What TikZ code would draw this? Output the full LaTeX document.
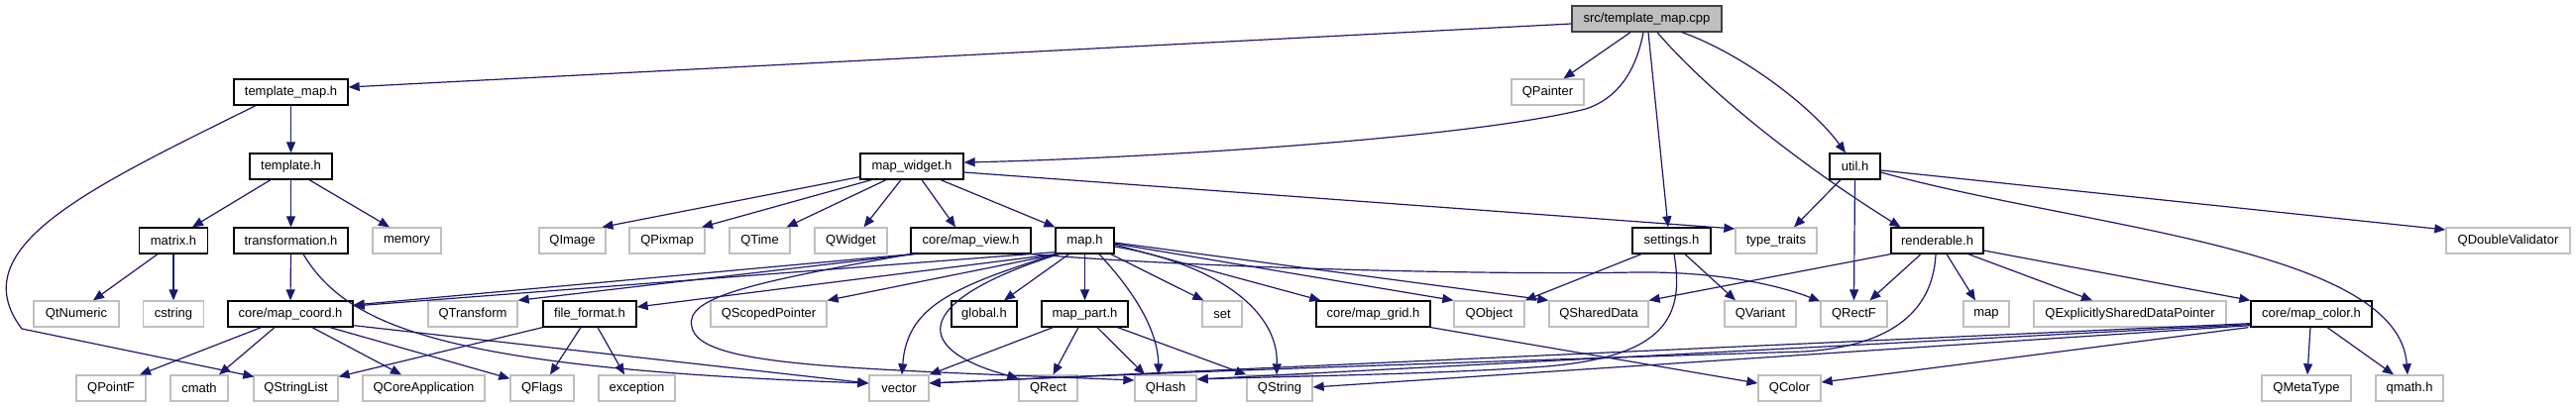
\documentclass[tikz,border=0pt]{standalone}
\usepackage{fontspec}
\setmainfont{Liberation Sans}
\usetikzlibrary{arrows.meta,calc}
\definecolor{edgeblue}{HTML}{191970}
\definecolor{grayborder}{HTML}{BFBFBF}
\definecolor{srcfill}{HTML}{BFBFBF}
\definecolor{srcborder}{HTML}{404040}
\begin{document}
\begin{tikzpicture}[x=1pt,y=-1pt,
  box/.style={rectangle,minimum height=26pt,inner sep=0pt,font=\fontsize{13pt}{15pt}\selectfont,fill=white,line width=1.3pt},
  blk/.style={box,draw=black},
  gry/.style={box,draw=grayborder},
  srcn/.style={box,draw=srcborder,fill=srcfill},
  edge/.style={draw=edgeblue,line width=1.2pt,-{Triangle[length=11pt,width=9pt]},fill=none}]
\fill[white] (0,0) rectangle (2599,411);
\useasboundingbox (0,0) rectangle (2599,411);
% row 0
\node[srcn,minimum width=151pt] (src) at (1661.5,19) {src/template\_map.cpp};
% row 1
\node[blk,minimum width=115pt] (tmh) at (293.5,93) {template\_map.h};
\node[gry,minimum width=73pt] (QPainter) at (1561.5,93) {QPainter};
% row 2
\node[blk,minimum width=83pt] (th) at (293.5,168) {template.h};
\node[blk,minimum width=104pt] (mwh) at (920,168) {map\_widget.h};
\node[blk,minimum width=51pt] (util) at (1871.5,168) {util.h};
% row 3
\node[blk,minimum width=69pt] (matrix) at (175,243) {matrix.h};
\node[blk,minimum width=115pt] (trans) at (293.5,243) {transformation.h};
\node[gry,minimum width=69pt] (memory) at (410.5,243) {memory};
\node[gry,minimum width=67pt] (QImage) at (577.5,243) {QImage};
\node[gry,minimum width=76pt] (QPixmap) at (673,243) {QPixmap};
\node[gry,minimum width=61pt] (QTime) at (766.5,243) {QTime};
\node[gry,minimum width=73pt] (QWidget) at (858.5,243) {QWidget};
\node[blk,minimum width=121pt] (mapview) at (979.5,243) {core/map\_view.h};
\node[blk,minimum width=59pt] (maph) at (1094.5,243) {map.h};
\node[blk,minimum width=79pt] (settings) at (1686.5,243) {settings.h};
\node[gry,minimum width=82pt] (typetraits) at (1792,243) {type\_traits};
\node[blk,minimum width=93pt] (renderable) at (1954.5,243) {renderable.h};
\node[gry,minimum width=125pt] (QDV) at (2530.5,243) {QDoubleValidator};
% row 4
\node[gry,minimum width=86pt] (QtNumeric) at (77,317) {QtNumeric};
\node[gry,minimum width=61pt] (cstring) at (175,317) {cstring};
\node[blk,minimum width=126pt] (mapcoord) at (293,317) {core/map\_coord.h};
\node[gry,minimum width=90pt] (QTransform) at (477,317) {QTransform};
\node[blk,minimum width=94pt] (fileformat) at (595,317) {file\_format.h};
\node[gry,minimum width=117pt] (QScopedPointer) at (775.5,317) {QScopedPointer};
\node[blk,minimum width=66pt] (global) at (993,317) {global.h};
\node[blk,minimum width=87pt] (mappart) at (1094.5,317) {map\_part.h};
\node[gry,minimum width=40pt] (set) at (1233,317) {set};
\node[blk,minimum width=115pt] (mapgrid) at (1385.5,317) {core/map\_grid.h};
\node[gry,minimum width=71pt] (QObject) at (1502.5,317) {QObject};
\node[gry,minimum width=100pt] (QSharedData) at (1613,317) {QSharedData};
\node[gry,minimum width=72pt] (QVariant) at (1776,317) {QVariant};
\node[gry,minimum width=67pt] (QRectF) at (1870.5,317) {QRectF};
\node[gry,minimum width=46pt] (map) at (2004,317) {map};
\node[gry,minimum width=194pt] (QESDP) at (2149,317) {QExplicitlySharedDataPointer};
\node[blk,minimum width=122pt] (mapcolor) at (2332,317) {core/map\_color.h};
% row 5
\node[gry,minimum width=70pt] (QPointF) at (112,392) {QPointF};
\node[gry,minimum width=58pt] (cmath) at (201,392) {cmath};
\node[gry,minimum width=85pt] (QStringList) at (298.5,392) {QStringList};
\node[gry,minimum width=123pt] (QCoreApp) at (427.5,392) {QCoreApplication};
\node[gry,minimum width=64pt] (QFlags) at (547,392) {QFlags};
\node[gry,minimum width=77pt] (exception) at (642.5,392) {exception};
\node[gry,minimum width=60pt] (vector) at (907,392) {vector};
\node[gry,minimum width=59pt] (QRect) at (1057.5,392) {QRect};
\node[gry,minimum width=62pt] (QHash) at (1176,392) {QHash};
\node[gry,minimum width=66pt] (QString) at (1291,392) {QString};
\node[gry,minimum width=63pt] (QColor) at (1805.5,392) {QColor};
\node[gry,minimum width=90pt] (QMetaType) at (2327,392) {QMetaType};
\node[gry,minimum width=68pt] (qmath) at (2431,392) {qmath.h};
% edges from src
\draw[edge] ($(src.west)+(0,5)$) -- ($(tmh.east)+(0,-5)$);
\draw[edge] ($(src.south)+(-16.5,0)$) -- ($(QPainter.north)+(16,0)$);
\draw[edge] ($(src.south)+(-3.5,0)$) .. controls (1650,75) and (1630,100) .. (1600,110) .. controls (1480,140) and (1150,160) .. ($(mwh.east)+(0,-4)$);
\draw[edge] ($(src.south)+(1.5,0)$) -- ($(settings.north)+(-3.5,0)$);
\draw[edge] ($(src.south)+(10.5,0)$) .. controls (1730,100) and (1830,175) .. ($(renderable.north)+(-37,0)$);
\draw[edge] ($(src.south)+(35.5,0)$) .. controls (1760,55) and (1830,110) .. ($(util.north)+(-9.5,0)$);
% template_map.h
\draw[edge] (tmh.south) -- (th.north);
\draw[edge] ($(tmh.south)+(-35.5,0)$) .. controls (90,190) and (-40,250) .. (22,332) -- ($(QStringList.north west)+(1,2)$);
% template.h
\draw[edge] ($(th.south)+(-20.5,0)$) -- ($(matrix.north)+(19,0)$);
\draw[edge] (th.south) -- (trans.north);
\draw[edge] ($(th.south)+(18.5,0)$) -- ($(memory.north)+(-17.5,0)$);
% matrix.h
\draw[edge] ($(matrix.south)+(-16,0)$) -- ($(QtNumeric.north)+(17,0)$);
\draw[edge] (matrix.south) -- (cstring.north);
% transformation.h
\draw[edge] (trans.south) -- (mapcoord.north);
\draw[edge] ($(trans.south)+(12.5,0)$) .. controls (350,330) and (450,372) .. ($(vector.west)+(0,-5)$);
% core/map_coord.h
\draw[edge] ($(mapcoord.south)+(-29.5,0)$) -- ($(QPointF.north)+(29,0)$);
\draw[edge] ($(mapcoord.south)+(-16,0)$) -- ($(cmath.north)+(20,0)$);
\draw[edge] ($(mapcoord.south)+(22,0)$) -- ($(QCoreApp.north)+(-22.5,0)$);
\draw[edge] ($(mapcoord.south)+(40,0)$) -- ($(QFlags.north west)+(0,4)$);
\draw[edge] ($(mapcoord.south east)+(0,-2)$) -- ($(vector.west)+(0,-5)$);
% file_format.h
\draw[edge] (fileformat.south west) -- ($(QStringList.north east)+(0,2)$);
\draw[edge] ($(fileformat.south)+(-9,0)$) -- ($(QFlags.north)+(8,0)$);
\draw[edge] ($(fileformat.south)+(8,0)$) -- ($(exception.north)+(-12.5,0)$);
% map_widget.h
\draw[edge] ($(mwh.south west)+(0,-3)$) -- ($(QImage.north)+(30,0)$);
\draw[edge] ($(mwh.south west)+(12,0)$) -- ($(QPixmap.north)+(35,0)$);
\draw[edge] ($(mwh.south)+(-26,0)$) -- ($(QTime.north)+(27,0)$);
\draw[edge] ($(mwh.south)+(-11,0)$) -- ($(QWidget.north)+(13,0)$);
\draw[edge] ($(mwh.south)+(10,0)$) -- ($(mapview.north)+(-15.5,0)$);
\draw[edge] ($(mwh.south)+(29,0)$) -- (maph.north west);
\draw[edge] ($(mwh.east)+(0,6)$) -- ($(typetraits.west)+(0,-12)$);
% core/map_view.h
\draw[edge] ($(mapview.south west)+(2,0)$) -- ($(mapcoord.east)+(0,-9)$);
\draw[edge] ($(mapview.south west)+(5,0)$) -- (QTransform.north east);
\draw[edge] (mapview.south west) .. controls (760,285) and (690,300) .. (698,330) .. controls (705,370) and (850,372) .. ($(QHash.west)+(0,-8)$);
\draw[edge] (mapview.south east) .. controls (1200,270) and (1500,278) .. (1650,275) .. controls (1740,274) and (1800,290) .. ($(QRectF.north west)+(0,1)$);
% map.h
\draw[edge] ($(maph.south west)+(0,-2)$) -- ($(mapcoord.east)+(0,-8)$);
\draw[edge] ($(maph.south west)+(1,0)$) -- ($(fileformat.east)+(0,-7)$);
\draw[edge] ($(maph.south west)+(2,0)$) -- (QScopedPointer.north east);
\draw[edge] ($(maph.south west)+(1,0)$) .. controls (960,290) and (915,310) .. ($(vector.north)+(3,0)$);
\draw[edge] ($(maph.south west)+(4,0)$) .. controls (930,300) and (910,350) .. ($(QRect.west)+(0,-10)$);
\draw[edge] ($(maph.south)+(-16,0)$) -- ($(global.north)+(20,0)$);
\draw[edge] (maph.south) -- (mappart.north);
\draw[edge] ($(maph.south)+(14.5,0)$) .. controls (1140,290) and (1168,330) .. ($(QHash.north)+(-7,0)$);
\draw[edge] ($(maph.south east)+(-4,0)$) -- ($(set.north west)+(2,0)$);
\draw[edge] ($(maph.east)+(0,6)$) .. controls (1220,265) and (1290,310) .. ($(QString.north)+(-3,0)$);
\draw[edge] ($(maph.east)+(0,4)$) -- ($(mapgrid.north west)+(5,0)$);
\draw[edge] ($(maph.east)+(0,3)$) -- (QObject.north west);
\draw[edge] ($(maph.east)+(0,2)$) -- (QSharedData.north west);
% map_part.h
\draw[edge] ($(mappart.south west)+(12,0)$) -- (vector.north east);
\draw[edge] ($(mappart.south)+(-6.5,0)$) -- ($(QRect.north)+(5,0)$);
\draw[edge] ($(mappart.south)+(12.5,0)$) -- ($(QHash.north)+(-21,0)$);
\draw[edge] ($(mappart.south east)+(-11,0)$) -- (QString.north west);
% settings.h
\draw[edge] ($(settings.south)+(-30.5,0)$) -- (QObject.north east);
\draw[edge] ($(settings.south)+(13.5,0)$) -- ($(QVariant.north)+(-25,0)$);
\draw[edge] ($(settings.south)+(2.5,0)$) .. controls (1700,320) and (1680,360) .. (1560,370) .. controls (1450,378) and (1300,380) .. ($(QHash.east)+(0,-9)$);
% renderable.h
\draw[edge] (renderable.south west) -- (QSharedData.north east);
\draw[edge] ($(renderable.south)+(-16.5,0)$) -- ($(QRectF.north)+(16,0)$);
\draw[edge] ($(renderable.south)+(-1.5,0)$) .. controls (1950,320) and (1900,350) .. (1820,355) .. controls (1500,365) and (1200,375) .. ($(vector.east)+(0,-5)$);
\draw[edge] ($(renderable.south)+(9.5,0)$) -- ($(map.north)+(-11,0)$);
\draw[edge] ($(renderable.south)+(31.5,0)$) -- ($(QESDP.north)+(-38,0)$);
\draw[edge] ($(renderable.east)+(0,10)$) -- (mapcolor.north west);
% util.h
\draw[edge] ($(util.south)+(-14.5,0)$) -- ($(typetraits.north)+(18,0)$);
\draw[edge] (util.south) -- (QRectF.north);
\draw[edge] ($(util.east)+(0,4)$) -- ($(QDV.west)+(0,-11)$);
\draw[edge] ($(util.east)+(0,6)$) .. controls (2100,230) and (2420,250) .. ($(qmath.north)+(-2,0)$);
% core/map_color.h
\draw[edge] ($(mapcolor.south)+(-1,0)$) -- ($(QMetaType.north)+(1,0)$);
\draw[edge] ($(mapcolor.south)+(16,0)$) -- ($(qmath.north)+(-16,0)$);
\draw[edge] ($(mapcolor.south west)+(-2,0)$) -- ($(QColor.east)+(0,-6)$);
\draw[edge] ($(mapcolor.south west)+(0,-2)$) -- ($(QString.east)+(0,-1)$);
\draw[edge] ($(mapcolor.south west)+(0,-3)$) -- ($(QHash.east)+(0,-9)$);
\draw[edge] ($(mapcolor.south west)+(0,-4)$) -- ($(vector.east)+(0,-5)$);
% core/map_grid.h
\draw[edge] (mapgrid.south east) -- ($(QColor.west)+(0,-5)$);
\end{tikzpicture}
\end{document}
